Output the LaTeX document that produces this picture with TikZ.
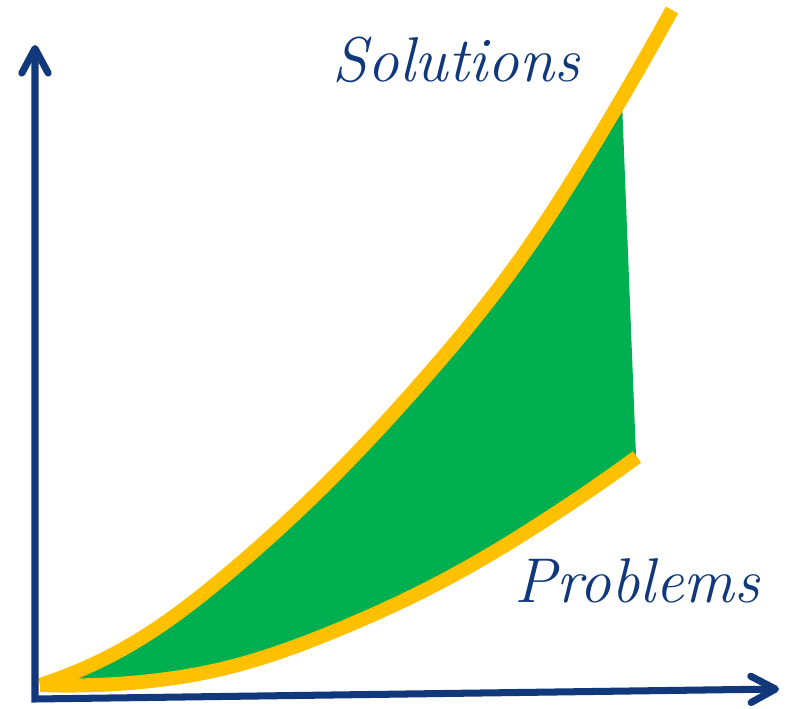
\documentclass[tikz,border=0pt]{standalone}
\usetikzlibrary{arrows.meta,hobby}
\definecolor{axisblue}{RGB}{16,56,122}
\definecolor{curveyellow}{RGB}{255,192,0}
\definecolor{areagreen}{RGB}{0,176,80}
\tikzstyle{axis} = [draw, axisblue, line width=4pt, line join=miter, {Straight Barb[length=14pt,width=15pt,round]}-{Straight Barb[length=14pt,width=15pt,round]}]
\tikzstyle{yellowline} = [draw, curveyellow, line width=8pt]
\tikzstyle{greenarea} = [fill=areagreen]
\tikzstyle{axislabel} = [text=axisblue, font=\fontsize{36}{42}\selectfont\itshape, anchor=base, inner sep=0pt]

\begin{document}
\begin{tikzpicture}[x=0.02cm, y=-0.02cm, use Hobby shortcut]
	\useasboundingbox (0,0) rectangle (792,709);
	\coordinate (origin) at (35,699);
	\coordinate (xtip) at (779,689);
	\coordinate (ytip) at (35,45);

	\begin{scope}
		\clip (0,0) -- (618,0) -- (646,709) -- (0,709) -- cycle;
		\path [greenarea] (40,685) .. (130,645) .. (230,572) .. (317,493) .. (417,387) .. (510,273) .. (597,140) .. (672,10)
			-- (700,460) -- (637,457) .. (550,517) .. (450,577) .. (330,633) .. (230,667) .. (130,683) .. (40,685) -- cycle;
	\end{scope}

	\path [yellowline] (40,685) .. (130,683) .. (230,667) .. (330,633) .. (450,577) .. (550,517) .. (637,457);
	\path [yellowline] (40,685) .. (130,645) .. (230,572) .. (317,493) .. (417,387) .. (510,273) .. (597,140) .. (672,10);

	\path [axis] (xtip) -- (origin) -- (ytip);

	\node [axislabel] (solutions) at (456,82) {Solutions};
	\node [axislabel] (problems) at (637,603) {Problems};
\end{tikzpicture}
\end{document}
